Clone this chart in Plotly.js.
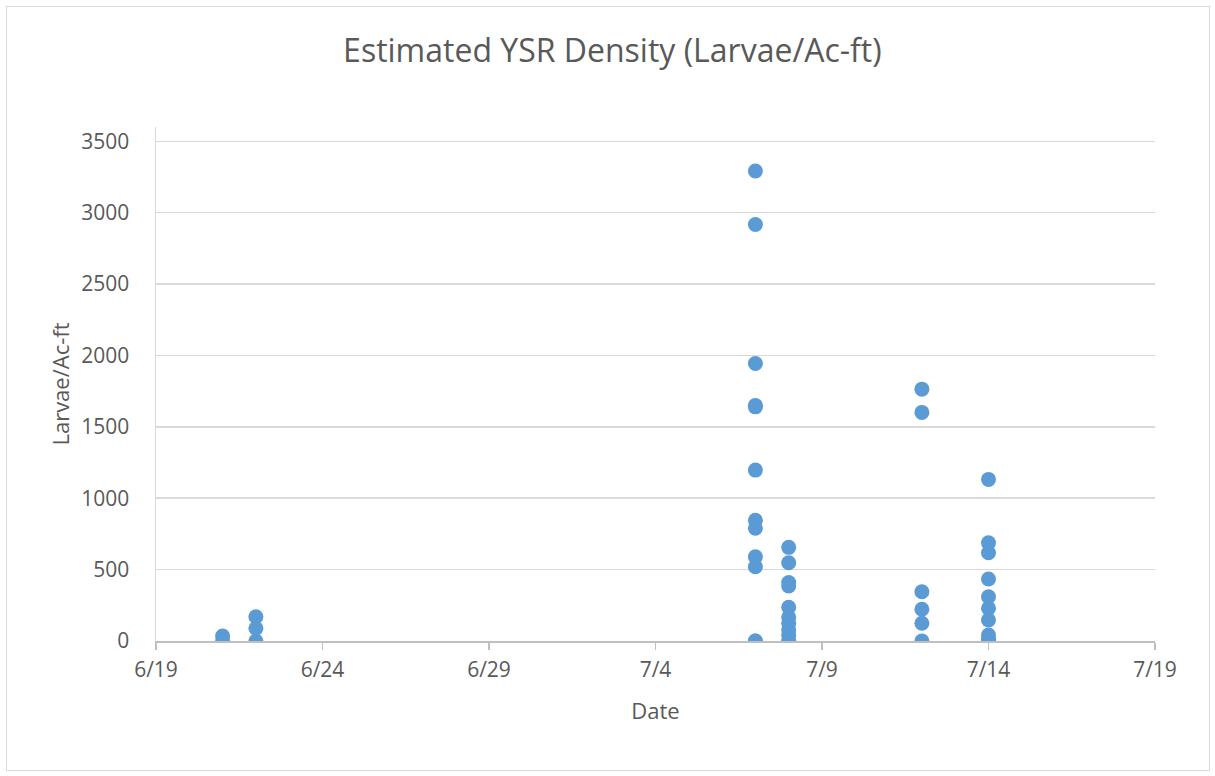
<!DOCTYPE html>
<html>
<head>
<meta charset="utf-8">
<script src="https://cdn.plot.ly/plotly-3.0.1.min.js"></script>
<style>
  html, body { margin: 0; padding: 0; background: #fff; }
  #wrap { position: relative; width: 1215px; height: 776px; }
  #frame { position: absolute; left: 6px; top: 6px; width: 1202px; height: 763px; border: 1px solid #d9d9d9; pointer-events: none; }
  #chart { position: absolute; left: 0; top: 0; width: 1215px; height: 776px; }
</style>
</head>
<body>
<div id="wrap">
  <div id="chart"></div>
  <div id="frame"></div>
</div>
<script>
// Sample dates and the densities read at each date
const sampleDates = ['2019-06-21', '2019-06-22', '2019-07-07', '2019-07-08', '2019-07-12', '2019-07-14'];
const density_0621 = [0, 35];
const density_0622 = [170, 89, 0];
const density_0707 = [3292, 2917, 1944, 1650, 1640, 1197, 845, 790, 590, 520, 0, 0];
const density_0708 = [656, 548, 410, 385, 236, 166, 124, 77, 40, 0, 0];
const density_0712 = [1764, 1601, 345, 222, 124, 0];
const density_0714 = [1132, 688, 618, 434, 310, 229, 147, 42, 10, 0];
const yTickVals = [0, 500, 1000, 1500, 2000, 2500, 3000, 3500];

const groups = [density_0621, density_0622, density_0707, density_0708, density_0712, density_0714];
const xs = [], ys = [];
groups.forEach((g, i) => g.forEach(v => { xs.push(sampleDates[i]); ys.push(v); }));

const font = '"Open Sans", "Noto Sans", sans-serif';
const txt = '#595959';
const trace = {
  type: 'scatter', mode: 'markers', x: xs, y: ys,
  marker: { color: '#5b9bd5', size: 15 },
  hoverinfo: 'x+y'
};

const layout = {
  width: 1215, height: 776,
  margin: { l: 156, r: 60, t: 127, b: 135 },
  paper_bgcolor: '#ffffff', plot_bgcolor: '#ffffff',
  showlegend: false,
  font: { family: font, color: txt, size: 21 },
  title: { text: 'Estimated YSR Density (Larvae/Ac-ft)', font: { family: font, size: 32, color: txt },
           x: 0.504, xref: 'container', xanchor: 'center', y: 0.935, yref: 'container', yanchor: 'middle' },
  xaxis: {
    type: 'date', range: ['2019-06-19', '2019-07-19'],
    tick0: '2019-06-19', dtick: 5 * 86400000, tickformat: '%-m/%-d',
    showgrid: false, zeroline: false,
    showline: true, linecolor: '#bfbfbf', linewidth: 1.5,
    ticks: 'outside', ticklen: 7, tickcolor: '#bfbfbf', tickwidth: 1.5,
    ticklabelstandoff: 2,
    tickfont: { family: font, size: 21, color: txt },
    title: { text: 'Date', font: { family: font, size: 22, color: txt }, standoff: 22 }
  },
  yaxis: {
    range: [0, 3600], tickvals: yTickVals, ticktext: yTickVals.map(String),
    showgrid: true, gridcolor: '#d9d9d9', gridwidth: 1.5,
    zeroline: false, showline: true, linecolor: '#d9d9d9', linewidth: 1.5,
    ticks: '', ticklabelstandoff: 21,
    tickfont: { family: font, size: 21, color: txt },
    title: { text: 'Larvae/Ac-ft', font: { family: font, size: 22, color: txt }, standoff: 5 }
  }
};

Plotly.newPlot('chart', [trace], layout, { displayModeBar: false, staticPlot: true });
</script>
</body>
</html>
